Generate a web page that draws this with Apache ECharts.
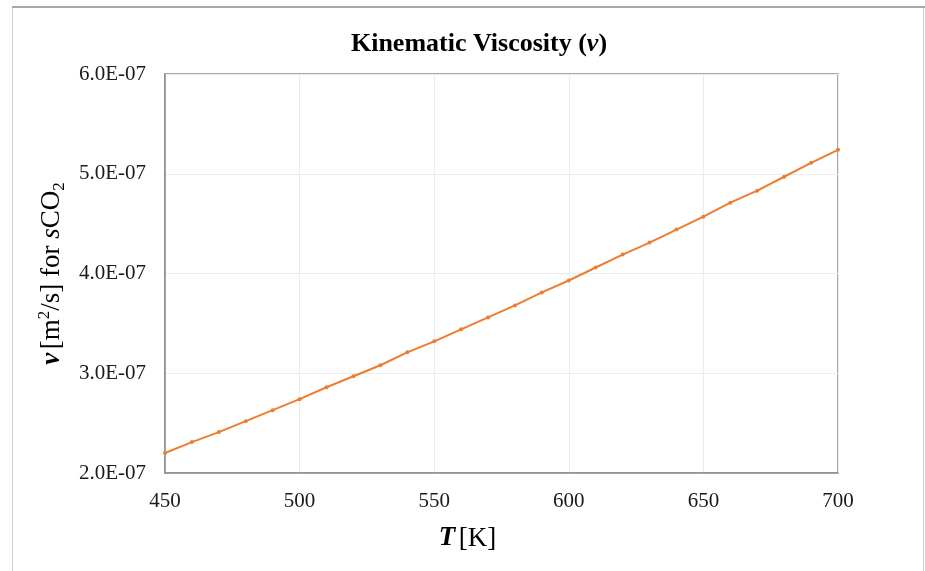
<!DOCTYPE html>
<html>
<head>
<meta charset="utf-8">
<script src="https://cdn.jsdelivr.net/npm/echarts@6/dist/echarts.min.js"></script>
<style>
  html, body { margin: 0; padding: 0; background: #ffffff; }
  #chart { width: 925px; height: 571px; }
</style>
</head>
<body>
<div id="chart"></div>
<script>
// Temperature T [K]
const temperatures = [450, 460, 470, 480, 490, 500, 510, 520, 530, 540, 550, 560, 570,
                      580, 590, 600, 610, 620, 630, 640, 650, 660, 670, 680, 690, 700];
// Kinematic viscosity of sCO2 [m^2/s]
const viscosity = [2.20e-7, 2.31e-7, 2.41e-7, 2.52e-7, 2.63e-7, 2.74e-7, 2.86e-7, 2.97e-7,
                   3.08e-7, 3.21e-7, 3.32e-7, 3.44e-7, 3.56e-7, 3.68e-7, 3.81e-7, 3.93e-7,
                   4.06e-7, 4.19e-7, 4.31e-7, 4.44e-7, 4.57e-7, 4.71e-7, 4.83e-7, 4.97e-7,
                   5.11e-7, 5.24e-7];
// Axis ranges
const xTicks = [450, 500, 550, 600, 650, 700];
const yTicks = [2e-7, 3e-7, 4e-7, 5e-7, 6e-7];

const FONT = 'Liberation Serif';
const ORANGE = '#ED7D31';

// Scientific label in the "6.0E-07" style
function sciLabel(v) {
  const s = v.toExponential(1);
  const parts = s.split('e');
  const exp = parseInt(parts[1], 10);
  const sign = exp < 0 ? '-' : '+';
  const mag = String(Math.abs(exp)).padStart(2, '0');
  return parts[0] + 'E' + sign + mag;
}

const chart = echarts.init(document.getElementById('chart'), null, { renderer: 'canvas' });

chart.setOption({
  backgroundColor: '#ffffff',
  animation: false,
  title: {
    text: '{n|Kinematic Viscosity (}{i|ν}{n|)}',
    left: 474,
    top: 26,
    textAlign: 'center',
    textStyle: {
      rich: {
        n: { fontFamily: FONT, fontSize: 26, fontWeight: 'bold', color: '#000' },
        i: { fontFamily: FONT, fontSize: 26, fontWeight: 'bold', fontStyle: 'italic', color: '#000' }
      }
    }
  },
  graphic: [
    {
      type: 'rect',
      shape: { x: 12.5, y: 7.5, width: 911, height: 600 },
      style: { fill: 'none', stroke: '#cfcfcf', lineWidth: 1 },
      silent: true
    },
    {
      type: 'line',
      shape: { x1: 12, y1: 7, x2: 925, y2: 7 },
      style: { stroke: '#a8a8a8', lineWidth: 2 },
      silent: true
    }
  ],
  grid: {
    left: 165,
    top: 74,
    right: 87,
    bottom: 98,
    show: true,
    borderColor: '#8c8c8c',
    borderWidth: 1.5,
    backgroundColor: 'transparent'
  },
  xAxis: {
    type: 'value',
    min: xTicks[0],
    max: xTicks[xTicks.length - 1],
    interval: xTicks[1] - xTicks[0],
    axisLine: { show: true, lineStyle: { color: '#8c8c8c', width: 1.5 } },
    axisTick: { show: false },
    splitLine: { show: true, lineStyle: { color: '#ececec', width: 1 } },
    axisLabel: { fontFamily: FONT, fontSize: 21, color: '#1a1a1a', margin: 18 },
    name: '{bi|T} {n|[K]}',
    nameLocation: 'middle',
    nameGap: 52,
    nameTextStyle: {
      padding: [0, 68, 0, 0],
      rich: {
        bi: { fontFamily: FONT, fontSize: 27, fontWeight: 'bold', fontStyle: 'italic', color: '#000' },
        n: { fontFamily: FONT, fontSize: 27, color: '#000' }
      }
    }
  },
  yAxis: {
    type: 'value',
    min: yTicks[0],
    max: yTicks[yTicks.length - 1],
    interval: 1e-7,
    axisLine: { show: true, lineStyle: { color: '#8c8c8c', width: 1.5 } },
    axisTick: { show: false },
    splitLine: { show: true, lineStyle: { color: '#ececec', width: 1 } },
    axisLabel: { fontFamily: FONT, fontSize: 21, color: '#1a1a1a', margin: 19, formatter: sciLabel },
    name: '{bi|ν} {n|[m}{sup|2}{n|/s] for }{i|s}{n|CO}{sub|2}',
    nameLocation: 'middle',
    nameRotate: 90,
    nameGap: 90,
    nameTextStyle: {
      rich: {
        bi: { fontFamily: FONT, fontSize: 27, fontWeight: 'bold', fontStyle: 'italic', color: '#000', lineHeight: 32 },
        n: { fontFamily: FONT, fontSize: 27, color: '#000', lineHeight: 32 },
        i: { fontFamily: FONT, fontSize: 27, fontStyle: 'italic', color: '#000', lineHeight: 32 },
        sup: { fontFamily: FONT, fontSize: 17, color: '#000', lineHeight: 20, verticalAlign: 'top' },
        sub: { fontFamily: FONT, fontSize: 17, color: '#000', lineHeight: 17, verticalAlign: 'bottom' }
      }
    }
  },
  series: [{
    type: 'line',
    data: temperatures.map((t, i) => [t, viscosity[i]]),
    symbol: 'circle',
    symbolSize: 4,
    showSymbol: true,
    lineStyle: { color: ORANGE, width: 2 },
    itemStyle: { color: ORANGE },
    smooth: false
  }]
});
</script>
</body>
</html>
